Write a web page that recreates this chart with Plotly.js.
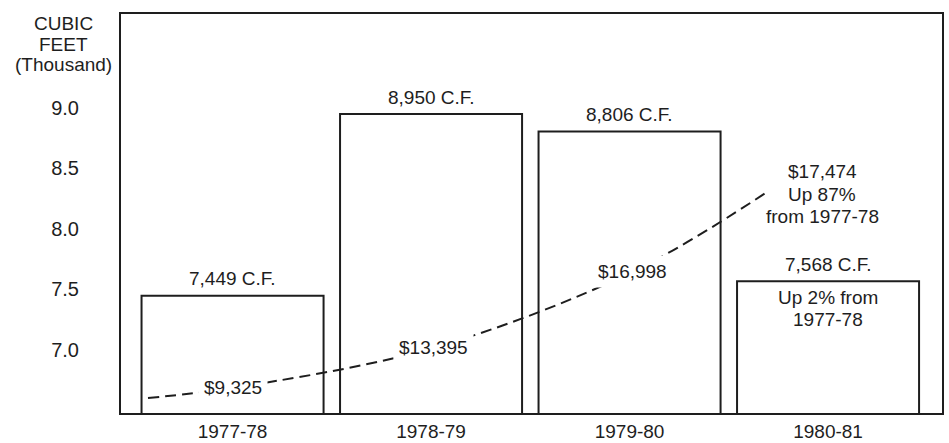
<!DOCTYPE html>
<html>
<head>
<meta charset="utf-8">
<script src="https://cdn.plot.ly/plotly-3.0.1.min.js"></script>
<style>
  html, body { margin: 0; padding: 0; background: #ffffff; }
  #chart { width: 949px; height: 443px; }
</style>
</head>
<body>
<div id="chart"></div>
<script>
// ---- data ----
const categories = ['1977-78', '1978-79', '1979-80', '1980-81'];
const cubicFeet = [7449, 8950, 8806, 7568];          // C.F. per year
const costDollars = [9325, 13395, 16998, 17474];      // cost labels on the dashed curve
// dashed cost curve as drawn (x in category index units, y in thousand C.F. units)
const curveX = [-0.426, 0, 1.01, 2.013, 2.693];
const curveY = [6.603, 6.686, 7.017, 7.645, 8.306];
const yTickVals = [7.0, 7.5, 8.0, 8.5, 9.0];
const yTickText = ['7.0', '7.5', '8.0', '8.5', '9.0'];
const yTitleLines = ['CUBIC', 'FEET', '(Thousand)'];
const lastNoteLines = ['Up 87%', 'from 1977-78'];
const barNoteLines = ['Up 2% from', '1977-78'];

// ---- helpers ----
const fmt = n => String(n).replace(/\B(?=(\d{3})+(?!\d))/g, ',');
const INK = '#1e1e1e';
const FONT = 'Liberation Sans, Arial, Helvetica, sans-serif';
const FS = 19;

const bars = {
  type: 'bar',
  x: categories,
  y: cubicFeet.map(v => v / 1000),
  width: 0.917,
  marker: { color: '#ffffff', line: { color: INK, width: 2 } },
  hoverinfo: 'skip',
  showlegend: false
};

const curve = {
  type: 'scatter',
  mode: 'lines',
  x: curveX,
  y: curveY,
  xaxis: 'x2',
  yaxis: 'y',
  line: { color: INK, width: 2, dash: '11px,6px', shape: 'spline', smoothing: 1 },
  hoverinfo: 'skip',
  showlegend: false
};

const annotations = [];

// bar value labels
cubicFeet.forEach((v, i) => {
  annotations.push({
    xref: 'x', yref: 'y', x: categories[i], y: v / 1000,
    text: fmt(v) + ' C.F.', showarrow: false,
    xanchor: 'center', yanchor: 'middle', yshift: 17,
    font: { family: FONT, size: FS, color: INK }
  });
});

// cost labels sitting on the curve (white background breaks the dashes)
for (let i = 0; i < 3; i++) {
  annotations.push({
    xref: 'x2', yref: 'y', x: curveX[i + 1], y: curveY[i + 1],
    text: '$' + fmt(costDollars[i]), showarrow: false,
    xanchor: 'center', yanchor: 'middle',
    bgcolor: '#ffffff', borderpad: 5,
    font: { family: FONT, size: FS, color: INK }
  });
}

// last cost label + note beyond the curve end
const endX = curveX[curveX.length - 1], endY = curveY[curveY.length - 1];
['$' + fmt(costDollars[3])].concat(lastNoteLines).forEach((t, k) => {
  annotations.push({
    xref: 'x2', yref: 'y', x: endX, y: endY,
    text: t, showarrow: false, xanchor: 'center', yanchor: 'middle',
    xshift: 55, yshift: 20 - k * 22.5,
    font: { family: FONT, size: FS, color: INK }
  });
});

// note inside last bar
barNoteLines.forEach((t, k) => {
  annotations.push({
    xref: 'x', yref: 'y', x: categories[3], y: cubicFeet[3] / 1000,
    text: t, showarrow: false, xanchor: 'center', yanchor: 'middle',
    yshift: -16 - k * 22,
    font: { family: FONT, size: FS, color: INK }
  });
});

// y axis title (horizontal, top-left)
const titleShift = [-9, -30, -50];
yTitleLines.forEach((t, k) => {
  annotations.push({
    xref: 'paper', yref: 'paper', x: 0, y: 1,
    text: t, showarrow: false, xanchor: 'center', yanchor: 'middle',
    xshift: -58, yshift: titleShift[k],
    font: { family: FONT, size: FS, color: INK }
  });
});

const layout = {
  width: 949, height: 443,
  margin: { l: 121, r: 7, t: 14, b: 30 },
  paper_bgcolor: '#ffffff',
  plot_bgcolor: '#ffffff',
  font: { family: FONT, size: FS, color: INK },
  showlegend: false,
  xaxis: {
    type: 'category',
    range: [-0.562, 3.574],
    showgrid: false, zeroline: false,
    showline: true, mirror: true, linecolor: INK, linewidth: 2,
    ticks: '', tickfont: { family: FONT, size: FS, color: INK },
    fixedrange: true
  },
  xaxis2: {
    type: 'linear', overlaying: 'x',
    range: [-0.562, 3.574], visible: false, fixedrange: true
  },
  yaxis: {
    range: [6.479, 9.777],
    tickvals: yTickVals, ticktext: yTickText,
    showgrid: false, zeroline: false,
    showline: true, mirror: true, linecolor: INK, linewidth: 2,
    ticks: '', ticklabelstandoff: 36,
    tickfont: { family: FONT, size: 20, color: INK },
    fixedrange: true
  },
  annotations: annotations
};

Plotly.newPlot('chart', [bars, curve], layout, { staticPlot: true, displayModeBar: false });
</script>
</body>
</html>
